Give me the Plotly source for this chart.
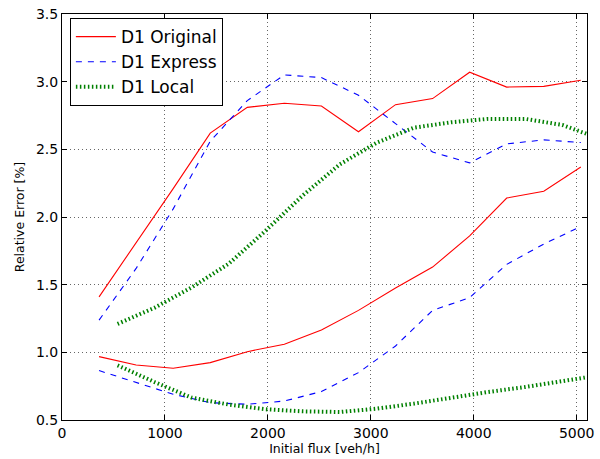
import plotly.graph_objects as go

# x positions (veh/h)
flux = [360, 720, 1080, 1440, 1800, 2160, 2520, 2880, 3240, 3600, 3960, 4320, 4680, 5040]
flux_local = [540, 900, 1260, 1620, 1980, 2340, 2700, 3060, 3420, 3780, 4140, 4500, 4860, 5220]

orig_upper = [1.41, 1.81, 2.21, 2.62, 2.81, 2.84, 2.82, 2.63, 2.83, 2.875, 3.07, 2.96, 2.965, 3.01]
orig_lower = [0.968, 0.906, 0.882, 0.924, 1.005, 1.06, 1.165, 1.31, 1.475, 1.63, 1.86, 2.14, 2.19, 2.37]

expr_upper = [1.238, 1.62, 2.06, 2.56, 2.86, 3.05, 3.03, 2.90, 2.69, 2.48, 2.40, 2.54, 2.57, 2.55]
expr_lower = [0.865, 0.776, 0.69, 0.628, 0.616, 0.64, 0.71, 0.85, 1.047, 1.31, 1.404, 1.65, 1.80, 1.93]

local_upper = [1.21, 1.33, 1.48, 1.655, 1.90, 2.16, 2.39, 2.55, 2.66, 2.70, 2.725, 2.725, 2.68, 2.58]
local_lower = [0.904, 0.78, 0.665, 0.614, 0.579, 0.564, 0.559, 0.584, 0.621, 0.665, 0.707, 0.744, 0.786, 0.83]

x_ticks = [0, 1000, 2000, 3000, 4000, 5000]
y_ticks = [0.5, 1.0, 1.5, 2.0, 2.5, 3.0, 3.5]

series = [
    ("D1 Original", flux, orig_upper, orig_lower, dict(color="#ff0000", width=1.1, dash="solid")),
    ("D1 Express", flux, expr_upper, expr_lower, dict(color="#0000ff", width=1.1, dash="6px,6px")),
    ("D1 Local", flux_local, local_upper, local_lower, dict(color="#008000", width=4, dash="1.5px,2.5px")),
]

fig = go.Figure()
for name, xs, up, lo, line in series:
    fig.add_trace(go.Scatter(x=xs, y=up, mode="lines", name=name, line=line,
                             legendgroup=name, showlegend=True))
    fig.add_trace(go.Scatter(x=xs, y=lo, mode="lines", name=name, line=line,
                             legendgroup=name, showlegend=False))

axis_common = dict(
    showline=True, linecolor="black", linewidth=1, mirror="ticks",
    ticks="inside", ticklen=5, tickcolor="black", tickwidth=1,
    showgrid=True, gridcolor="#666666", griddash="1px,3px", gridwidth=1,
    zeroline=False, tickfont=dict(size=14, color="black"), automargin=False,
)

fig.update_xaxes(range=[0, 5100], tickvals=x_ticks, ticktext=[str(v) for v in x_ticks],
                 title=dict(text="Initial flux [veh/h]", font=dict(size=12.5, color="black"), standoff=4),
                 **axis_common)
fig.update_yaxes(range=[0.5, 3.5], tickvals=y_ticks, ticktext=[f"{v:.1f}" for v in y_ticks],
                 title=dict(text="Relative Error [%]", font=dict(size=12.5, color="black"), standoff=8),
                 **axis_common)

fig.update_layout(
    width=600, height=459,
    margin=dict(l=62, r=13, t=13.5, b=39, autoexpand=False),
    paper_bgcolor="white", plot_bgcolor="white",
    font=dict(family="DejaVu Sans", color="black"),
    legend=dict(x=0.015, y=0.99, xanchor="left", yanchor="top",
                bgcolor="white", bordercolor="black", borderwidth=1, itemwidth=40,
                font=dict(size=17, color="black"), tracegroupgap=0),
)

# remove the default page margin so the figure sits at the window's top-left corner
fig.write_html("out.html", config={"displayModeBar": False},
               post_script="document.body.style.margin='0';")
